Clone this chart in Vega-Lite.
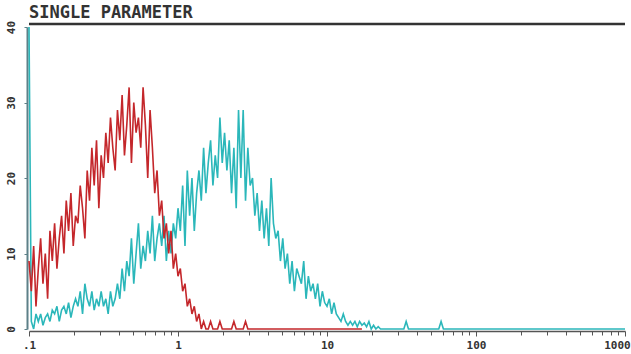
{
  "$schema": "https://vega.github.io/schema/vega-lite/v6.json",
  "width": 596,
  "height": 302,
  "autosize": "none",
  "padding": {"left": 29, "top": 27, "right": 6, "bottom": 25},
  "background": "white",
  "config": {"view": {"stroke": null}},
  "title": {"text": "SINGLE PARAMETER", "anchor": "start", "frame": "group", "font": "DejaVu Sans Mono", "fontSize": 17, "fontWeight": "bold", "color": "#333333", "baseline": "alphabetic", "offset": -15},
  "resolve": {"axis": {"x": "independent"}},
  "datasets": {
    "red": [
      {"c":0,"v":9},{"c":1,"v":5},{"c":2,"v":11},{"c":3,"v":3},{"c":4,"v":8},{"c":5,"v":12},{"c":6,"v":6},{"c":7,"v":10},{"c":8,"v":4},{"c":9,"v":13},
      {"c":10,"v":9},{"c":11,"v":14},{"c":12,"v":8},{"c":13,"v":12},{"c":14,"v":15},{"c":15,"v":10},{"c":16,"v":17},{"c":17,"v":13},{"c":18,"v":18},{"c":19,"v":11},
      {"c":20,"v":15},{"c":21,"v":14},{"c":22,"v":19},{"c":23,"v":16},{"c":24,"v":12},{"c":25,"v":21},{"c":26,"v":17},{"c":27,"v":24},{"c":28,"v":19},{"c":29,"v":25},
      {"c":30,"v":16},{"c":31,"v":23},{"c":32,"v":20},{"c":33,"v":26},{"c":34,"v":22},{"c":35,"v":28},{"c":36,"v":24},{"c":37,"v":21},{"c":38,"v":29},{"c":39,"v":25},
      {"c":40,"v":31},{"c":41,"v":23},{"c":42,"v":27},{"c":43,"v":32},{"c":44,"v":22},{"c":45,"v":30},{"c":46,"v":26},{"c":47,"v":28},{"c":48,"v":24},{"c":49,"v":32},
      {"c":50,"v":27},{"c":51,"v":20},{"c":52,"v":29},{"c":53,"v":24},{"c":54,"v":18},{"c":55,"v":21},{"c":56,"v":15},{"c":57,"v":17},{"c":58,"v":12},{"c":59,"v":14},
      {"c":60,"v":10},{"c":61,"v":13},{"c":62,"v":8},{"c":63,"v":10},{"c":64,"v":7},{"c":65,"v":8},{"c":66,"v":5},{"c":67,"v":6},{"c":68,"v":3},{"c":69,"v":4},
      {"c":70,"v":2},{"c":71,"v":3},{"c":72,"v":1},{"c":73,"v":2},{"c":74,"v":0},{"c":75,"v":1},{"c":76,"v":0},{"c":77,"v":0},{"c":78,"v":1},{"c":79,"v":0},
      {"c":81,"v":0},{"c":82,"v":1},{"c":83,"v":0},{"c":87,"v":0},{"c":88,"v":1},{"c":89,"v":0},{"c":92,"v":0},{"c":93,"v":1},{"c":94,"v":0},{"c":143,"v":0}
    ],
    "cyan": [
      {"c":0,"v":40},{"c":1,"v":1},{"c":2,"v":0},{"c":3,"v":2},{"c":4,"v":1},{"c":5,"v":2},{"c":6,"v":0.5},{"c":7,"v":1.5},{"c":8,"v":2},{"c":9,"v":1},
      {"c":10,"v":2.5},{"c":11,"v":2},{"c":12,"v":3},{"c":13,"v":1},{"c":14,"v":2.5},{"c":15,"v":3},{"c":16,"v":2},{"c":17,"v":3.5},{"c":18,"v":1.5},{"c":19,"v":3},
      {"c":20,"v":4},{"c":21,"v":3},{"c":22,"v":5},{"c":23,"v":2},{"c":24,"v":6},{"c":25,"v":4},{"c":26,"v":3},{"c":27,"v":5},{"c":28,"v":2.5},{"c":29,"v":4},
      {"c":30,"v":3},{"c":31,"v":5},{"c":32,"v":3},{"c":33,"v":4},{"c":34,"v":2},{"c":35,"v":5},{"c":36,"v":3},{"c":37,"v":4},{"c":38,"v":6},{"c":39,"v":4},
      {"c":40,"v":8},{"c":41,"v":5},{"c":42,"v":9},{"c":43,"v":7},{"c":44,"v":12},{"c":45,"v":6},{"c":46,"v":10},{"c":47,"v":14},{"c":48,"v":8},{"c":49,"v":11},
      {"c":50,"v":9},{"c":51,"v":13},{"c":52,"v":10},{"c":53,"v":15},{"c":54,"v":9},{"c":55,"v":12},{"c":56,"v":14},{"c":57,"v":11},{"c":58,"v":15},{"c":59,"v":9},
      {"c":60,"v":13},{"c":61,"v":10},{"c":62,"v":14},{"c":63,"v":12},{"c":64,"v":16},{"c":65,"v":13},{"c":66,"v":19},{"c":67,"v":11},{"c":68,"v":21},{"c":69,"v":15},
      {"c":70,"v":20},{"c":71,"v":13},{"c":72,"v":18},{"c":73,"v":21},{"c":74,"v":17},{"c":75,"v":24},{"c":76,"v":18},{"c":77,"v":22},{"c":78,"v":25},{"c":79,"v":19},
      {"c":80,"v":23},{"c":81,"v":20},{"c":82,"v":28},{"c":83,"v":22},{"c":84,"v":26},{"c":85,"v":21},{"c":86,"v":25},{"c":87,"v":18},{"c":88,"v":24},{"c":89,"v":16},
      {"c":90,"v":29},{"c":91,"v":20},{"c":92,"v":29},{"c":93,"v":17},{"c":94,"v":24},{"c":95,"v":19},{"c":96,"v":20},{"c":97,"v":15},{"c":98,"v":18},{"c":99,"v":13},
      {"c":100,"v":17},{"c":101,"v":12},{"c":102,"v":16},{"c":103,"v":11},{"c":104,"v":20},{"c":105,"v":14},{"c":106,"v":12},{"c":107,"v":13},{"c":108,"v":9},{"c":109,"v":12},
      {"c":110,"v":8},{"c":111,"v":10},{"c":112,"v":6},{"c":113,"v":9},{"c":114,"v":5},{"c":115,"v":8},{"c":116,"v":7},{"c":117,"v":6},{"c":118,"v":9},{"c":119,"v":4},
      {"c":120,"v":7},{"c":121,"v":5},{"c":122,"v":6},{"c":123,"v":4},{"c":124,"v":6},{"c":125,"v":3},{"c":126,"v":5},{"c":127,"v":3.5},{"c":128,"v":3},{"c":129,"v":4},
      {"c":130,"v":2},{"c":131,"v":3.5},{"c":132,"v":2},{"c":133,"v":1.5},{"c":134,"v":1},{"c":135,"v":2},{"c":136,"v":1},{"c":137,"v":0.5},{"c":138,"v":1},{"c":139,"v":0.5},
      {"c":140,"v":1},{"c":141,"v":0.3},{"c":142,"v":1},{"c":143,"v":0.5},{"c":144,"v":0.8},{"c":145,"v":0.3},{"c":146,"v":1},{"c":147,"v":0},{"c":148,"v":0.5},{"c":149,"v":0},
      {"c":150,"v":0.3},{"c":151,"v":0},{"c":161,"v":0},{"c":162,"v":1},{"c":163,"v":0},{"c":176,"v":0},{"c":177,"v":1},{"c":178,"v":0},{"c":256,"v":0}
    ]
  },
  "layer": [
    {
      "data": {"name": "cyan"},
      "mark": {"type": "line", "color": "#2bb7ba", "strokeWidth": 1.6},
      "encoding": {
        "x": {"field": "c", "type": "quantitative",
          "scale": {"domain": [0, 256], "nice": false, "zero": false},
          "axis": {
            "title": null, "grid": false, "offset": 2, "orient": "bottom",
            "values": [0, 64, 128, 192, 256],
            "labelExpr": "datum.value < 1 ? '.1' : datum.value < 65 ? '1' : datum.value < 129 ? '10' : datum.value < 193 ? '100' : '1000'",
            "labelOffset": {"condition": {"test": "datum.value > 255", "value": -8}, "value": 0},
            "labelOverlap": false, "labelFlush": false, "labelBound": false,
            "labelFont": "DejaVu Sans Mono", "labelFontWeight": "bold", "labelFontSize": 11, "labelColor": "#333333", "labelPadding": 3,
            "domainColor": "#555555", "domainWidth": 1.5, "tickColor": "#555555", "tickSize": 5, "tickWidth": 1
          }
        },
        "y": {"field": "v", "type": "quantitative",
          "scale": {"domain": [0, 40], "nice": false},
          "axis": {
            "title": null, "grid": false, "offset": 2,
            "values": [0, 10, 20, 30, 40],
            "labelAngle": 270, "labelAlign": "center", "labelBaseline": "bottom", "labelPadding": 8,
            "labelFont": "DejaVu Sans Mono", "labelFontWeight": "bold", "labelFontSize": 11, "labelColor": "#333333",
            "domainColor": "#5d8088", "domainWidth": 2, "tickColor": "#5d8088", "tickSize": 3
          }
        }
      }
    },
    {
      "data": {"name": "red"},
      "mark": {"type": "line", "color": "#c4272b", "strokeWidth": 1.6},
      "encoding": {
        "x": {"field": "c", "type": "quantitative",
          "axis": {
            "title": null, "grid": false, "offset": 2, "orient": "bottom", "labels": false, "domain": false,
            "values": [19.27,30.54,38.53,44.74,49.8,54.09,57.8,61.07,83.27,94.54,102.53,108.74,113.8,118.09,121.8,125.07,147.27,158.54,166.53,172.74,177.8,182.09,185.8,189.07,211.27,222.54,230.53,236.74,241.8,246.09,249.8,253.07],
            "tickColor": "#555555", "tickSize": 4, "tickWidth": 1
          }
        },
        "y": {"field": "v", "type": "quantitative"}
      }
    },
    {
      "data": {"values": [{}]},
      "mark": {"type": "rule", "color": "#333333", "strokeWidth": 2.5},
      "encoding": {
        "y": {"datum": 40.4, "type": "quantitative"}
      }
    }
  ]
}
